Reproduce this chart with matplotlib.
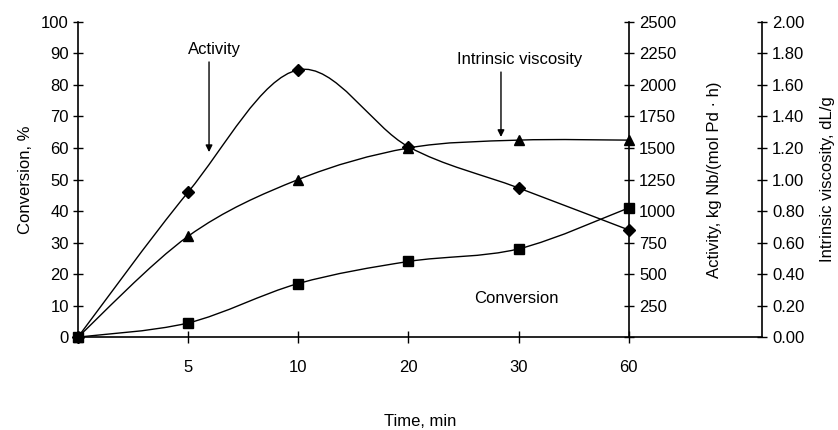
import numpy as np
import matplotlib.pyplot as plt
from matplotlib.path import Path
from matplotlib.patches import PathPatch

plt.rcParams['font.family'] = ['Liberation Sans Narrow', 'Liberation Sans', 'DejaVu Sans']

# data
time_labels = ['', '5', '10', '20', '30', '60']
conversion = [0, 4.5, 17, 24, 28, 41]            # %
activity = [0, 1150, 2120, 1510, 1183, 850]      # kg Nb/(mol Pd h)
viscosity = [0, 0.64, 1.00, 1.20, 1.25, 1.25]    # dL/g

x = np.arange(len(time_labels))


def smooth_line(ax, xs, ys, marker):
    # Excel style smoothed line: bezier through the points
    p = np.column_stack([xs, ys]).astype(float)
    pts = np.vstack([p[0], p, p[-1]])
    verts = [p[0]]
    codes = [Path.MOVETO]
    for i in range(1, len(pts) - 2):
        c1 = pts[i] + (pts[i + 1] - pts[i - 1]) / 6
        c2 = pts[i + 1] - (pts[i + 2] - pts[i]) / 6
        verts += [c1, c2, pts[i + 1]]
        codes += [Path.CURVE4] * 3
    ax.add_patch(PathPatch(Path(verts, codes), fill=False, lw=1.0, ec='black', zorder=3))
    ax.plot(xs, ys, ls='none', marker=marker, ms=6.5, color='black', zorder=4, clip_on=False)


fig = plt.figure(figsize=(8.38, 4.30), dpi=100)
ax = fig.add_axes([0.093, 0.216, 0.816, 0.733])
ax2 = ax.twinx()
ax3 = ax.twinx()

for a in (ax, ax2, ax3):
    a.set_xlim(0, 6.207)
    a.spines['top'].set_visible(False)
    a.patch.set_visible(False)

ax.spines['right'].set_visible(False)
for a in (ax2, ax3):
    a.spines['left'].set_visible(False)
    a.spines['bottom'].set_visible(False)
ax2.spines['right'].set_position(('data', 5))

ax.set_ylim(0, 100)
ax2.set_ylim(0, 2500)
ax3.set_ylim(0, 2.0)

ax.set_yticks(np.arange(0, 101, 10))
ax2.set_yticks(np.arange(0, 2501, 250))
ax2.set_yticklabels([''] + [str(v) for v in range(250, 2501, 250)])
ax3.set_yticks(np.arange(0, 2.01, 0.2))
ax3.set_yticklabels(['%.2f' % v for v in np.arange(0, 2.01, 0.2)])

ax.set_xticks(x)
ax.set_xticklabels(time_labels)

ax.tick_params(axis='x', direction='inout', length=9, width=1, pad=12, labelsize=12)
ax.tick_params(axis='y', direction='inout', length=7, width=1, pad=3, labelsize=12)
for a in (ax2, ax3):
    a.tick_params(axis='y', direction='inout', length=7, width=1, pad=4, labelsize=12)
for a in (ax, ax2, ax3):
    for s in a.spines.values():
        s.set_linewidth(1.2)

smooth_line(ax, x, conversion, 's')
smooth_line(ax2, x, activity, 'D')
smooth_line(ax3, x, viscosity, '^')

ax.set_ylabel('Conversion, %', fontsize=12, labelpad=6)
ax2.set_ylabel('Activity, kg Nb/(mol Pd · h)', fontsize=12, labelpad=22)
ax3.set_ylabel('Intrinsic viscosity, dL/g', fontsize=12, labelpad=11)
ax.set_xlabel('Time, min', fontsize=12, labelpad=28)

arrow = dict(arrowstyle='-|>', color='black', lw=1, mutation_scale=10, shrinkA=0, shrinkB=0)
ax.text(1.24, 91.4, 'Activity', ha='center', va='center', fontsize=12)
ax.annotate('', xy=(1.19, 58.7), xytext=(1.19, 87.3), arrowprops=arrow)
ax.text(4.01, 88.2, 'Intrinsic viscosity', ha='center', va='center', fontsize=12)
ax.annotate('', xy=(3.84, 63.5), xytext=(3.84, 84.1), arrowprops=arrow)
ax.text(3.98, 12.4, 'Conversion', ha='center', va='center', fontsize=12)

fig.savefig('out.png', dpi=100)
